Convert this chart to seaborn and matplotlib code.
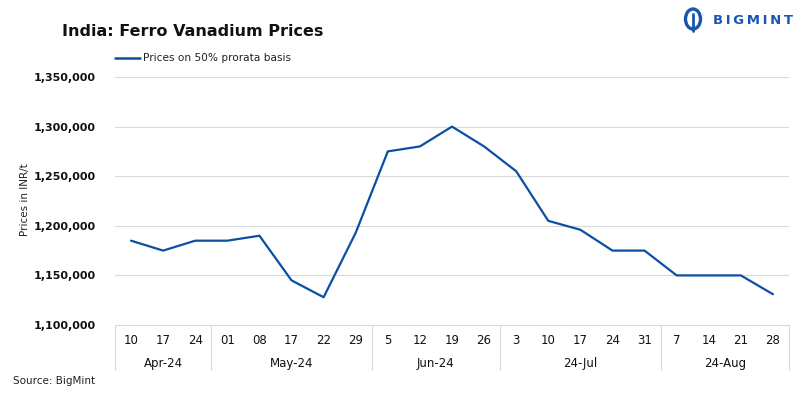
import numpy as np
import pandas as pd
import matplotlib
matplotlib.use("Agg")
import matplotlib.pyplot as plt
import matplotlib.ticker as ticker
from matplotlib.lines import Line2D
from matplotlib.patches import Ellipse
import seaborn as sns

# Données
days = ["10", "17", "24",
        "01", "08", "17", "22", "29",
        "5", "12", "19", "26",
        "3", "10", "17", "24", "31",
        "7", "14", "21", "28"]
months = ["Apr-24", "May-24", "Jun-24", "24-Jul", "24-Aug"]
month_sizes = [3, 5, 4, 5, 4]
prices = [1185000, 1175000, 1185000,
          1185000, 1190000, 1145000, 1128000, 1193000,
          1275000, 1280000, 1300000, 1280000,
          1255000, 1205000, 1196000, 1175000, 1175000,
          1150000, 1150000, 1150000, 1131000]

df = pd.DataFrame({"pos": np.arange(len(prices)), "price": prices})

blue = "#0b4fa3"
grid_col = "#d9d9d9"

sns.set_theme(style="white")
plt.rcParams["font.family"] = ["DejaVu Sans"]

fig = plt.figure(figsize=(8.05, 3.98), dpi=100)
W, H = 805, 398
ax = fig.add_axes([115 / W, (H - 325) / H, 674 / W, 248 / H])

sns.lineplot(data=df, x="pos", y="price", color=blue, linewidth=1.6, ax=ax,
             label="Prices on 50% prorata basis", legend=False)

ax.set_xlim(-0.5, len(prices) - 0.5)
ax.set_ylim(1100000, 1350000)
ax.yaxis.set_major_locator(ticker.MultipleLocator(50000))
ax.yaxis.set_major_formatter(ticker.FuncFormatter(lambda v, p: f"{int(v):,}"))
ax.grid(axis="y", color=grid_col, linewidth=0.8)
ax.set_axisbelow(True)
for lab in ax.get_yticklabels():
    lab.set_fontweight("bold")
ax.tick_params(axis="y", labelsize=8, length=0, pad=14, labelcolor="#111111")
ax.set_xticks([])
ax.set_xlabel("")
ax.set_ylabel("")
sns.despine(ax=ax, left=True, top=True, right=True)
ax.spines["bottom"].set_color(grid_col)
ax.spines["bottom"].set_linewidth(0.8)

# Axe des catégories à deux niveaux
trans = ax.get_xaxis_transform()
for i, d in enumerate(days):
    ax.text(i, -15 / 248, d, transform=trans, ha="center", va="center",
            fontsize=8.5, color="#111111")
bounds = np.concatenate([[0], np.cumsum(month_sizes)]) - 0.5
for k, m in enumerate(months):
    mid = (bounds[k] + bounds[k + 1]) / 2
    ax.text(mid, -38 / 248, m, transform=trans, ha="center", va="center",
            fontsize=8.5, color="#111111")
for b in bounds:
    ax.add_line(Line2D([b, b], [0, -45 / 248], transform=trans, color=grid_col,
                       linewidth=0.8, clip_on=False))

# Titres et annotations
fig.text(62 / W, 1 - 32 / H, "India: Ferro Vanadium Prices", fontsize=11.5,
         fontweight="bold", ha="left", va="center", color="#111111")
fig.add_artist(Line2D([115 / W, 140 / W], [1 - 58 / H, 1 - 58 / H], color=blue,
                      linewidth=1.8))
fig.text(143 / W, 1 - 58 / H, "Prices on 50% prorata basis", fontsize=7.6,
         ha="left", va="center", color="#222222")
fig.text(25 / W, 1 - 200 / H, "Prices in INR/t", rotation=90, fontsize=7.5,
         ha="center", va="center", color="#222222")
fig.text(13 / W, 1 - 381 / H, "Source: BigMint", fontsize=7.5,
         ha="left", va="center", color="#222222")

# Logo
fig.add_artist(Ellipse((693 / W, 1 - 19 / H), 15 / W, 20 / H, facecolor="none",
                       edgecolor="#1a55b0", linewidth=2.4))
fig.add_artist(Line2D([693 / W, 693 / W], [1 - 14 / H, 1 - 31 / H],
                      color="#1a55b0", linewidth=2.0))
fig.text(713 / W, 1 - 21 / H, "B\u2009I\u2009G\u2009M\u2009I\u2009N\u2009T",
         fontsize=9.5, fontweight="bold", ha="left", va="center", color="#1a55b0")

fig.savefig("out.png", dpi=100)
